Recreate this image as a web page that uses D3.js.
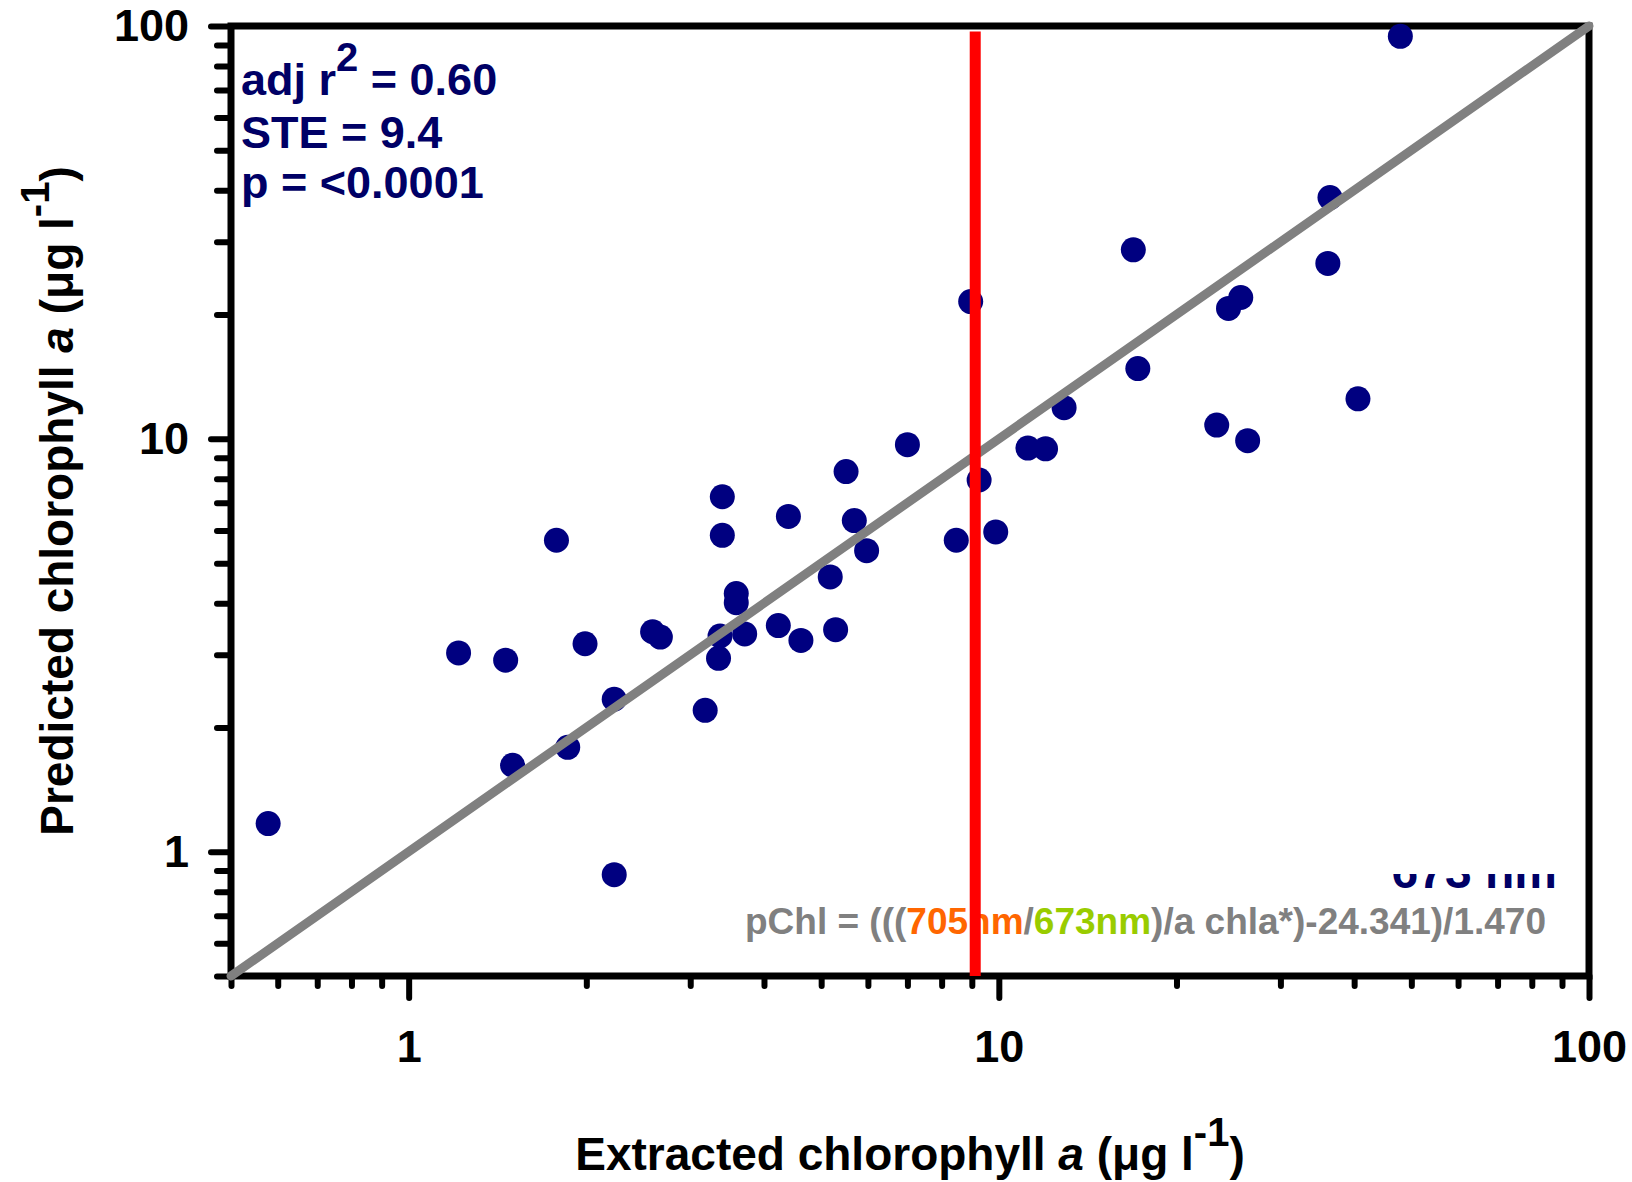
<!DOCTYPE html>
<html><head><meta charset="utf-8">
<script src="https://cdn.jsdelivr.net/npm/d3@7"></script>
<style>
body{margin:0;background:#fff}
svg{display:block}
text{font-family:"Liberation Sans",Arial,sans-serif;font-weight:bold}
</style>
</head><body>
<svg id="c" width="1632" height="1182"></svg>
<script>
// ---- data ----
const extracted = [47.9, 36.4, 36.1, 16.9, 8.96, 25.7, 24.5, 17.2, 12.9, 40.6, 23.4, 26.4, 11.2, 12.0, 7.0,
  5.51, 9.26, 3.40, 4.40, 5.69, 3.40, 1.78, 8.47, 9.88, 5.97, 5.18, 3.59, 3.59, 4.23, 5.29,
  2.59, 2.67, 3.37, 3.71, 4.62, 1.99, 1.215, 1.46, 3.35, 2.23, 3.18, 1.86, 1.50, 0.578, 2.23];
const predicted = [94.4, 38.4, 26.6, 28.7, 21.5, 22.0, 20.7, 14.8, 11.9, 12.5, 10.8, 9.9, 9.5, 9.46, 9.68,
  8.33, 7.95, 7.24, 6.49, 6.34, 5.84, 5.68, 5.68, 5.95, 5.36, 4.63, 4.22, 4.01, 3.53, 3.45,
  3.41, 3.31, 3.33, 3.37, 3.25, 3.19, 3.03, 2.91, 2.94, 2.34, 2.20, 1.79, 1.62, 1.17, 0.88];
const majorTicks = [1, 10, 100];
const minorTicks = [0.5, 0.6, 0.7, 0.8, 0.9, 2, 3, 4, 5, 6, 7, 8, 9, 20, 30, 40, 50, 60, 70, 80, 90];
const axisDomain = [0.5, 100];
const oneToOneLine = [0.5, 100];
const thresholdX = 9.12;
const thresholdY = [0.5, 97];
const statLines = ["STE = 9.4", "p = <0.0001"];
const xTitle = "Extracted chlorophyll ";
const yTitle = "Predicted chlorophyll ";

// ---- layout ----
const L = 231, R = 1589, T = 26, B = 976;
const svg = d3.select("#c");
const x = d3.scaleLog().domain(axisDomain).range([L, R]);
const y = d3.scaleLog().domain(axisDomain).range([B, T]);
const navy = "#000080", textNavy = "#000066";

function styleAxis(g){
  g.select(".domain").remove();
  g.selectAll(".tick line").attr("stroke","#000").attr("stroke-width",6).attr("stroke-linecap","round");
  g.selectAll(".tick text").attr("fill","#000").style("font-size","45px")
    .style("font-family",'"Liberation Sans",Arial,sans-serif').style("font-weight","bold");
}
svg.append("g").attr("transform",`translate(0,${B})`)
  .call(d3.axisBottom(x).tickValues(minorTicks).tickSize(10).tickFormat("")).call(styleAxis);
svg.append("g").attr("transform",`translate(0,${B})`)
  .call(d3.axisBottom(x).tickValues(majorTicks).tickSize(22).tickPadding(32).tickFormat(d3.format("d"))).call(styleAxis);
svg.append("g").attr("transform",`translate(${L},0)`)
  .call(d3.axisLeft(y).tickValues(minorTicks).tickSize(14).tickFormat("")).call(styleAxis);
svg.append("g").attr("transform",`translate(${L},0)`)
  .call(d3.axisLeft(y).tickValues(majorTicks).tickSize(20).tickPadding(22).tickFormat(d3.format("d"))).call(styleAxis);

// frame
svg.append("rect").attr("x",L).attr("y",T).attr("width",R-L).attr("height",B-T)
  .attr("fill","none").attr("stroke","#000").attr("stroke-width",7);

// clipped navy label (partly hidden)
svg.append("defs").append("clipPath").attr("id","clipLbl")
  .append("rect").attr("x",1300).attr("y",874).attr("width",280).attr("height",30);
svg.append("text").attr("clip-path","url(#clipLbl)")
  .attr("x",1557).attr("y",888).attr("text-anchor","end")
  .attr("fill",textNavy).style("font-size","48px").text("673 nm");

// formula
const f = svg.append("text").attr("x",745).attr("y",934).attr("fill","#808080").style("font-size","37px");
f.append("tspan").text("pChl = (((");
f.append("tspan").attr("fill","#FF6600").text("705nm");
f.append("tspan").text("/");
f.append("tspan").attr("fill","#99CC00").text("673nm");
f.append("tspan").text(")/a chla*)-24.341)/1.470");

// points
svg.append("g").selectAll("circle").data(extracted.map((v,i)=>[v,predicted[i]]))
  .join("circle").attr("cx",d=>x(d[0])).attr("cy",d=>y(d[1])).attr("r",12.5).attr("fill",navy);

// 1:1 line
svg.append("line").attr("x1",x(oneToOneLine[0])).attr("y1",y(oneToOneLine[0]))
  .attr("x2",x(oneToOneLine[1])).attr("y2",y(oneToOneLine[1]))
  .attr("stroke","#808080").attr("stroke-width",9).attr("stroke-linecap","round");

// red threshold line
svg.append("line").attr("x1",x(thresholdX)).attr("x2",x(thresholdX))
  .attr("y1",y(thresholdY[1])).attr("y2",y(thresholdY[0]))
  .attr("stroke","#FF0000").attr("stroke-width",11);

// stats text
const s1 = svg.append("text").attr("x",241).attr("y",95).attr("fill",textNavy).style("font-size","45px");
s1.append("tspan").text("adj r");
s1.append("tspan").attr("dy",-24).style("font-size","40px").text("2");
s1.append("tspan").attr("dy",24).text(" = 0.60");
statLines.forEach((t,i)=>{
  svg.append("text").attr("x",241).attr("y",148 + i*50).attr("fill",textNavy).style("font-size","45px").text(t);
});

// axis titles
const xt = svg.append("text").attr("x",(L+R)/2).attr("y",1170).attr("text-anchor","middle")
  .attr("fill","#000").style("font-size","46px");
xt.append("tspan").text(xTitle);
xt.append("tspan").style("font-style","italic").text("a");
xt.append("tspan").text(" (\u03bcg l");
xt.append("tspan").attr("dy",-24).style("font-size","40px").text("-1");
xt.append("tspan").attr("dy",24).text(")");

const yt = svg.append("text").attr("transform",`translate(73,${(T+B)/2}) rotate(-90)`)
  .attr("text-anchor","middle").attr("fill","#000").style("font-size","46px");
yt.append("tspan").text(yTitle);
yt.append("tspan").style("font-style","italic").text("a");
yt.append("tspan").text(" (\u03bcg l");
yt.append("tspan").attr("dy",-24).style("font-size","40px").text("-1");
yt.append("tspan").attr("dy",24).text(")");
</script>
</body></html>
